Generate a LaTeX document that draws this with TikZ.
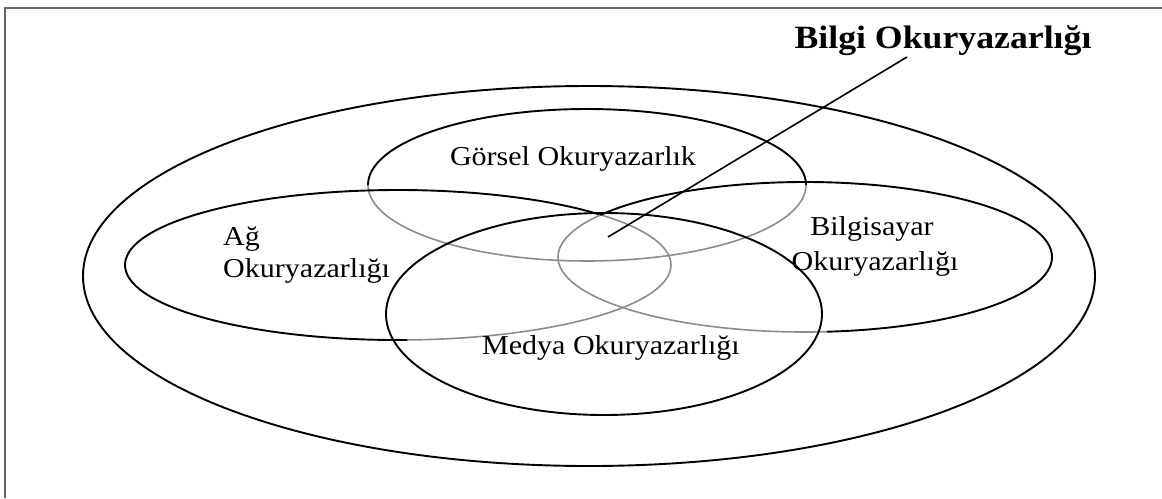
\documentclass[tikz,border=0pt]{standalone}
\usepackage{fontspec}
\setmainfont{Liberation Serif}[FakeStretch=1.1]
\begin{document}
\begin{tikzpicture}[x=1pt,y=-1pt,
  ring/.style={line width=1.9pt, black},
  faint/.style={line width=1.6pt, black!45},
  frame/.style={line width=2pt, black!60},
  lbl/.style={font=\fontsize{27.3}{32}\selectfont, inner sep=0pt, anchor=base},
  titlestyle/.style={font=\bfseries\fontsize{32.5}{38}\selectfont, inner sep=0pt, anchor=base},
  pointer/.style={line width=1.6pt, black}]
\useasboundingbox (0,0) rectangle (1162,498);
\fill[white] (0,0) rectangle (1162,498);
% frame (top and left edges)
\draw[frame] (5,498) -- (5,7.5) -- (1162,7.5);
% outer ellipse
\draw[ring] (589,276) ellipse [x radius=506, y radius=190];
% Gorsel ellipse: centre (587,185)
\draw[ring] (368,185) arc[start angle=180, end angle=360, x radius=219, y radius=76];
\draw[faint] (806,185) arc[start angle=0, end angle=180, x radius=219, y radius=76];
% Ag ellipse: centre (398,265), rx 273, ry 75
\draw[ring] ([shift={(398,265)}]88:273 and 75) arc[start angle=88, end angle=318, x radius=273, y radius=75];
\draw[faint] ([shift={(398,265)}]-42:273 and 75) arc[start angle=-42, end angle=88, x radius=273, y radius=75];
% Bilgisayar ellipse: centre (805,257), rx 247, ry 75
\draw[ring] ([shift={(805,257)}]214:247 and 75) arc[start angle=214, end angle=445, x radius=247, y radius=75];
\draw[faint] ([shift={(805,257)}]85:247 and 75) arc[start angle=85, end angle=214, x radius=247, y radius=75];
% Medya ellipse
\draw[ring] (604,314) ellipse [x radius=218, y radius=101];
% labels
\node[titlestyle] (title) at (943,48) {Bilgi Okuryazarlığı};
\node[lbl] (gorsel) at (573,165) {Görsel Okuryazarlık};
\node[lbl, anchor=base west] (ag1) at (223,245) {Ağ};
\node[lbl, anchor=base west] (ag2) at (223,277) {Okuryazarlığı};
\node[lbl] (bil1) at (872,235) {Bilgisayar};
\node[lbl] (bil2) at (875,270) {Okuryazarlığı};
\node[lbl] (medya) at (611,354) {Medya Okuryazarlığı};
% pointer
\coordinate (ptop) at (907,57);
\coordinate (pbot) at (608,237);
\draw[pointer] (ptop) -- (pbot);
\end{tikzpicture}
\end{document}
